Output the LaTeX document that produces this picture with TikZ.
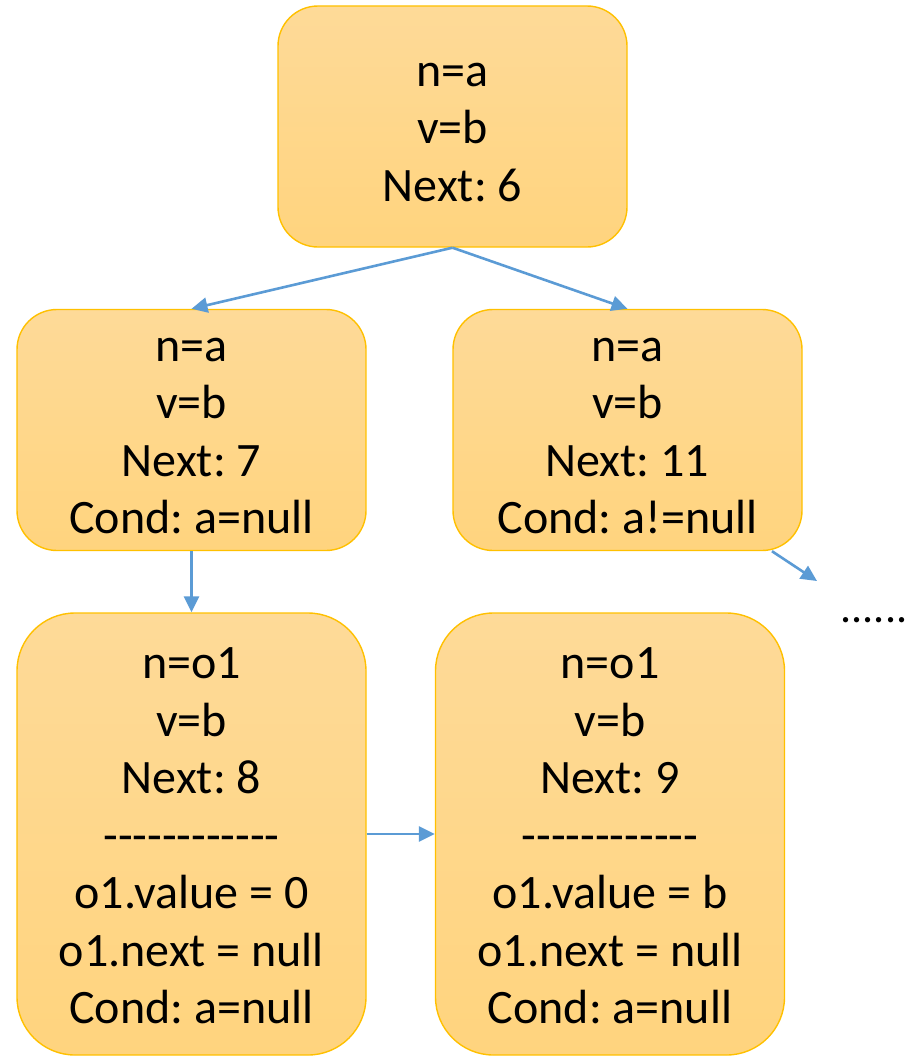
\documentclass[tikz,border=0pt]{standalone}
\usepackage{fontspec}
\newfontfamily\cellfont{Carlito}
\usetikzlibrary{arrows.meta}
\definecolor{cellline}{HTML}{FFC000}
\definecolor{celltop}{HTML}{FEDA98}
\definecolor{cellbot}{HTML}{FFD47E}
\definecolor{linkblue}{HTML}{5B9BD5}
\frenchspacing
\newcommand\cellgap{\rule{0pt}{35pt}}

\begin{document}
\begin{tikzpicture}[x = 1pt, y = -1pt,
		cell/.style = {draw = cellline, line width = 1.4pt, top color = celltop, bottom color = cellbot, rounded corners = 40pt, minimum width = 349pt, minimum height = 241pt, align = center, font = \cellfont\fontsize{48}{57.5}\selectfont},
		tall/.style = {minimum height = 442pt, rounded corners = 58pt},
		link/.style = {draw = linkblue, line width = 2.6pt, -{Triangle[length = 16pt, width = 15pt]}}]
		\useasboundingbox (0,0) rectangle (908,1057);
		\node[cell] (top) at (452.5,126.5) {\cellgap n=a\\v=b\\Next: 6};
		\node[cell] (lmid) at (191.5,430) {\cellgap n=a\\v=b\\Next: 7\\Cond: a=null};
		\node[cell] (rmid) at (627.5,430) {\cellgap n=a\\v=b\\Next: 11\\Cond: a!=null};
		\node[cell, tall] (lbot) at (191.5,834) {\cellgap n=o1\\v=b\\Next: 8\\------------\\o1.value = 0\\o1.next = null\\Cond: a=null};
		\node[cell, tall] (rbot) at (610,834) {\cellgap n=o1\\v=b\\Next: 9\\------------\\o1.value = b\\o1.next = null\\Cond: a=null};
		\node[font = \cellfont\fontsize{44}{50}\selectfont, inner sep = 0pt] (dots) at (874,620) {......};
		\coordinate (more) at (817,581);
		\draw[link] (top.south) -- (lmid.north);
		\draw[link] (top.south) -- (rmid.north);
		\draw[link] (lmid.south) -- (lbot.north);
		\draw[link] (rmid.-40) -- (more);
		\draw[link] (lbot.east) -- (rbot.west);
	\end{tikzpicture}
\end{document}
